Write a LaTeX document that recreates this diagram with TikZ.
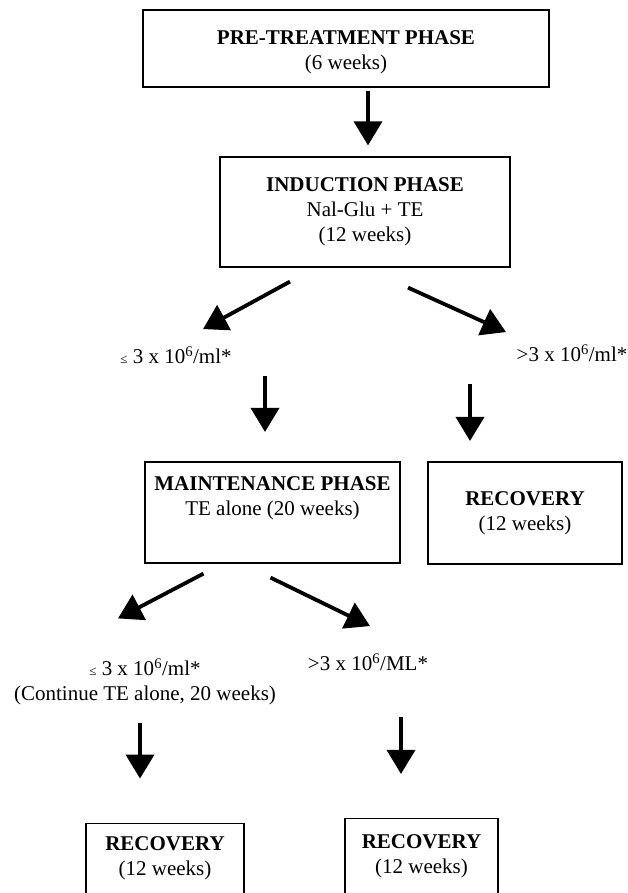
\documentclass[tikz,border=0pt]{standalone}
\usepackage{fontspec}
\setmainfont{Liberation Serif}
\usetikzlibrary{arrows.meta,calc}
\newcommand{\lesym}{{\fontsize{13}{13}\selectfont ≤}}
\begin{document}
\begin{tikzpicture}[x=1pt,y=-1pt,
  >={Triangle[width=28pt,length=24pt]},
  box/.style={draw,line width=1.2pt,align=center,inner sep=0pt,font=\fontsize{21}{25}\selectfont},
  txt/.style={align=center,inner sep=0pt,font=\fontsize{21}{25}\selectfont},
  arr/.style={->,line width=3.8pt}]
\useasboundingbox (0,0) rectangle (628,893);

% boxes
\node[box,minimum width=406,minimum height=77,text height=46pt] (pre) at (346,48.5) {\textbf{PRE-TREATMENT PHASE}\\(6 weeks)};
\node[box,minimum width=290,minimum height=110] (ind) at (365,212) {\textbf{INDUCTION PHASE}\\Nal-Glu + TE\\(12 weeks)};
\node[box,minimum width=255,minimum height=101] (mnt) at (272.5,512.5) {\textbf{MAINTENANCE PHASE}\\TE alone (20 weeks)\\ \strut};
\node[box,minimum width=194,minimum height=102] (recA) at (525,513) {\textbf{RECOVERY}\\(12 weeks)};
\node[box,minimum width=158,minimum height=85,text depth=20pt,anchor=north] (recB) at (165,823) {\textbf{RECOVERY}\\(12 weeks)};
\node[box,minimum width=153,minimum height=90,text depth=20pt,anchor=north] (recC) at (421.5,818) {\textbf{RECOVERY}\\(12 weeks)};

% criteria
\node[txt] (le1) at (176,355) {\lesym\ 3 x 10\textsuperscript{6}/ml*};
\node[txt] (gt1) at (572,353) {>3 x 10\textsuperscript{6}/ml*};
\node[txt] (le2) at (145,682) {\lesym\ 3 x 10\textsuperscript{6}/ml*\\(Continue TE alone, 20 weeks)};
\node[txt] (gt2) at (368,662) {>3 x 10\textsuperscript{6}/ML*};

% arrows
\draw[arr] ($(pre.south)+(22,3)$) -- ($(ind.north)+(3,-11)$);
\draw[arr] ($(ind.south)+(-75,14)$) -- ($(le1.north)+(27,-17)$);
\draw[arr] ($(ind.south)+(43,20)$) -- ($(gt1.north)+(-66,-12)$);
\draw[arr] ($(le1.south)+(89,12)$) -- ($(le1.south)+(89,68)$);
\draw[arr] ($(gt1.south)+(-102,22)$) -- ($(gt1.south)+(-102,79)$);
\draw[arr] ($(mnt.south)+(-69,10)$) -- ($(le2.north)+(-27,-40)$);
\draw[arr] ($(mnt.south)+(-2,14)$) -- ($(gt2.north)+(2,-27)$);
\draw[arr] ($(le2.south)+(-5,17)$) -- ($(le2.south)+(-5,73)$);
\draw[arr] ($(gt2.south)+(33,46)$) -- ($(gt2.south)+(33,103)$);
\end{tikzpicture}
\end{document}
